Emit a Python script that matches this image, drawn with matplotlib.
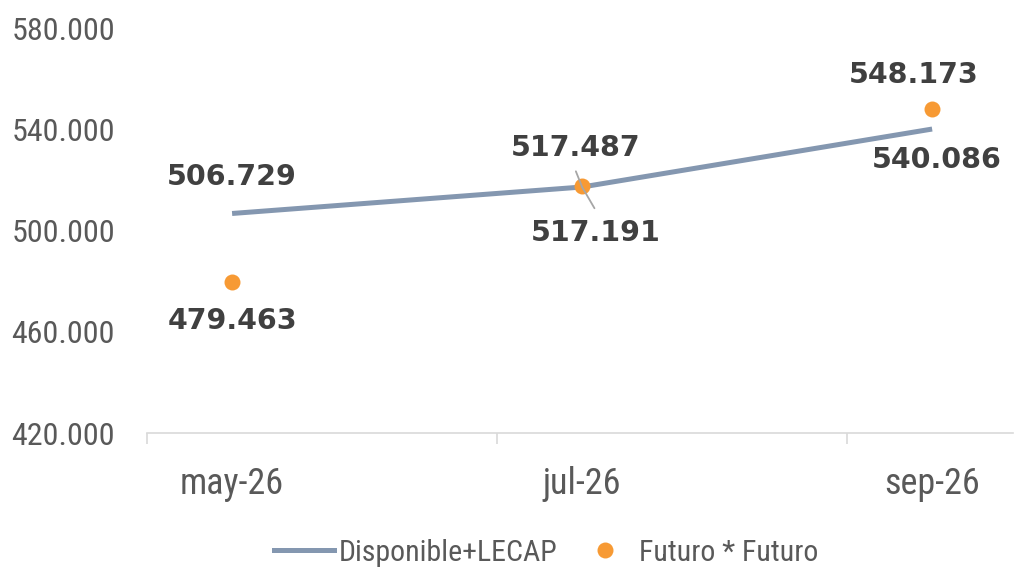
import matplotlib.pyplot as plt
import matplotlib.ticker as mticker
from matplotlib.lines import Line2D
from matplotlib import font_manager

# Datos
meses = ["may-26", "jul-26", "sep-26"]
disponible_lecap = [506729, 517191, 540086]
futuro_futuro = [479463, 517487, 548173]
y_ticks = [420000, 460000, 500000, 540000, 580000]

color_linea = "#8497B0"
color_punto = "#F79A34"
color_texto = "#595959"
color_etiqueta = "#404040"

# fuente estrecha si existe
nombres = {f.name for f in font_manager.fontManager.ttflist}
estrechas = [n for n in ["Liberation Sans Narrow", "Roboto Condensed", "Open Sans Condensed",
                         "DejaVu Sans Condensed"] if n in nombres]
condensada = any("Condensed" in f.fname for f in font_manager.fontManager.ttflist
                 if f.name == "DejaVu Sans")
if estrechas:
    fuente_ejes = dict(family=estrechas[0])
elif condensada:
    fuente_ejes = dict(family="DejaVu Sans", stretch="condensed")
else:
    fuente_ejes = dict(family="Roboto")


def fmt_miles(v):
    return f"{v:,.0f}".replace(",", ".")


fig = plt.figure(figsize=(10.14, 5.67), dpi=100)
ax = fig.add_axes([0.145, 0.2363, 0.854, 0.7143])

x = list(range(len(meses)))
ax.plot(x, disponible_lecap, color=color_linea, lw=3.6, solid_capstyle="butt", zorder=2)
ax.plot(x, futuro_futuro, ls="none", marker="o", ms=11.5, color=color_punto,
        markeredgewidth=0, zorder=3)

ax.set_xlim(-0.243, 2.231)
ax.set_ylim(420000, 580000)
ax.set_yticks(y_ticks)
ax.yaxis.set_major_formatter(mticker.FuncFormatter(lambda v, p: fmt_miles(v)))
ax.set_xticks(x)
ax.set_xticklabels(meses)
ax.set_xticks([-0.243, 0.757, 1.757], minor=True)

for s in ["top", "right", "left"]:
    ax.spines[s].set_visible(False)
ax.spines["bottom"].set_color("#D9D9D9")
ax.spines["bottom"].set_linewidth(1.2)
ax.tick_params(axis="y", length=0, pad=23, labelcolor=color_texto, labelsize=23)
ax.tick_params(axis="x", which="major", length=0, pad=24, labelcolor=color_texto, labelsize=26)
ax.tick_params(axis="x", which="minor", length=8, width=1.2, color="#D9D9D9")
for lab in ax.get_yticklabels() + ax.get_xticklabels():
    lab.set(**fuente_ejes)

# Etiquetas de datos (desplazamiento en puntos)
off_disp = [(0, 26.5), (9.5, -33), (3.5, -22)]
off_fut = [(0, -27.5), (-5, 27.5), (-13.5, 24)]
for i in x:
    ax.annotate(fmt_miles(disponible_lecap[i]), (i, disponible_lecap[i]),
                xytext=off_disp[i], textcoords="offset points", ha="center", va="center",
                fontsize=20.5, fontweight="bold", color=color_etiqueta)
    ax.annotate(fmt_miles(futuro_futuro[i]), (i, futuro_futuro[i]),
                xytext=off_fut[i], textcoords="offset points", ha="center", va="center",
                fontsize=20.5, fontweight="bold", color=color_etiqueta)

# Linea guia de la etiqueta de jul-26
for dxy in [(-4.5, 11.3), (8.9, -15.3)]:
    ax.annotate("", (1, disponible_lecap[1]), xytext=dxy, textcoords="offset points",
                arrowprops=dict(arrowstyle="-", color="#A6A6A6", lw=1.3,
                                shrinkA=0, shrinkB=0), zorder=4)

handles = [Line2D([], [], color=color_linea, lw=3.6),
           Line2D([], [], ls="none", marker="o", ms=11.5, color=color_punto, markeredgewidth=0)]
prop_leyenda = font_manager.FontProperties(size=21.5, **fuente_ejes)
fig.legend(handles, ["Disponible+LECAP", "Futuro * Futuro"], loc="center",
           bbox_to_anchor=(0.539, 0.025), ncol=2, frameon=False, handlelength=2.0,
           handletextpad=0.15, columnspacing=0.6, prop=prop_leyenda, labelcolor=color_texto)

fig.savefig("out.png", dpi=100)
